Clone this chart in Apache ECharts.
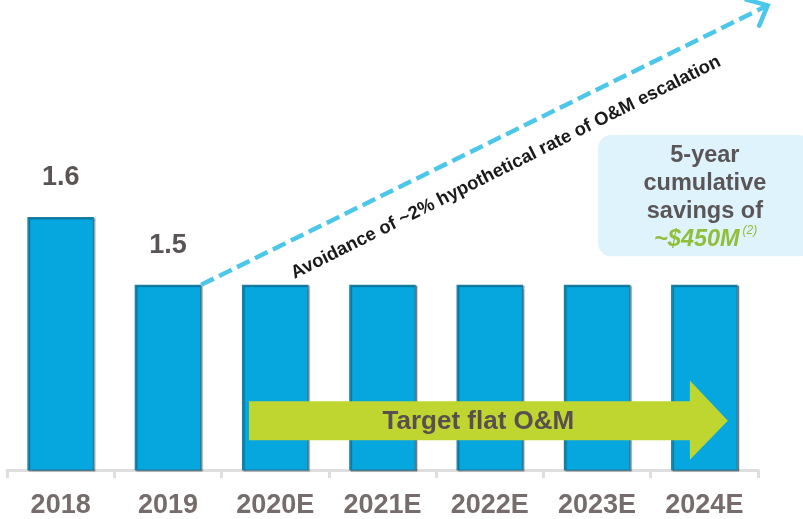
<!DOCTYPE html>
<html>
<head>
<meta charset="utf-8">
<script src="https://cdn.jsdelivr.net/npm/echarts@6/dist/echarts.min.js"></script>
<style>
html,body{margin:0;padding:0;background:#fff;}
#c{width:803px;height:519px;}
</style>
</head>
<body>
<div id="c"></div>
<script>
// ---- data ----
var categories = ['2018', '2019', '2020E', '2021E', '2022E', '2023E', '2024E'];
var values = [1.6, 1.5, 1.5, 1.5, 1.5, 1.5, 1.5];
var labelledBars = ['2018', '2019'];
var trendText = 'Avoidance of ~2% hypothetical rate of O&M escalation';
var flatText = 'Target flat O&M';
var boxLines = ['5-year', 'cumulative', 'savings of'];
var boxAmount = '~$450M';
var boxNote = '(2)';

var FONT = '"Liberation Sans", Arial, Helvetica, sans-serif';
var chart = echarts.init(document.getElementById('c'), null, {renderer: 'canvas'});

var seriesData = values.map(function (v, i) {
  return {
    value: v,
    label: {show: labelledBars.indexOf(categories[i]) >= 0}
  };
});

var option = {
  animation: false,
  backgroundColor: '#ffffff',
  grid: {left: 7, right: 45, top: 2, bottom: 48, containLabel: false},
  xAxis: {
    type: 'category',
    data: categories,
    axisLine: {show: true, lineStyle: {color: '#dedede', width: 3}},
    axisTick: {show: true, length: 8, lineStyle: {color: '#dedede', width: 3}},
    axisLabel: {fontFamily: FONT, fontSize: 27, fontWeight: 'bold', color: '#766c6c', margin: 22}
  },
  yAxis: {
    type: 'value',
    min: 1.227,
    max: 1.917,
    show: false,
    splitLine: {show: false}
  },
  series: [{
    type: 'bar',
    data: seriesData,
    barWidth: '62%',
    itemStyle: {
      color: '#06a6de',
      borderColor: '#1f7fa2',
      borderWidth: 1.2,
      shadowColor: 'rgba(0,0,0,0.35)',
      shadowOffsetX: 1.5,
      shadowOffsetY: 1,
      shadowBlur: 1
    },
    label: {
      position: 'top',
      distance: 26,
      fontFamily: FONT,
      fontSize: 27,
      fontWeight: 'bold',
      color: '#5a5455'
    }
  }]
};
chart.setOption(option);

// helpers to place annotations in data space
function P(cat, val) {
  var p0 = chart.convertToPixel({seriesIndex: 0}, [0, val]);
  var p1 = chart.convertToPixel({seriesIndex: 0}, [1, val]);
  var band = p1[0] - p0[0];
  return [p0[0] + cat * band, p0[1]];
}
var band = P(1, 1.5)[0] - P(0, 1.5)[0];
var halfBar = band * 0.62 / 2;

// dashed trend arrow: from top-right corner of 2019 bar
var start = P(1, values[1]); start[0] += halfBar;
var tip = P(6.59, 1.912);
var ang = Math.atan2(tip[1] - start[1], tip[0] - start[0]);
var armLen = 22, armAng = 0.72;
var armA = [tip[0] - armLen * Math.cos(ang - armAng), tip[1] - armLen * Math.sin(ang - armAng)];
var armB = [tip[0] - armLen * Math.cos(ang + armAng), tip[1] - armLen * Math.sin(ang + armAng)];

// green flat arrow
var aL = P(2, 0)[0] - halfBar + 7;
var headStart = P(6, 0)[0] - 14.5;
var aTip = P(6, 0)[0] + 23.5;
var bodyTop = P(0, 1.3285)[1], bodyBot = P(0, 1.271)[1];
var headTop = P(0, 1.359)[1], headBot = P(0, 1.242)[1];
var midY = (bodyTop + bodyBot) / 2;

// info box
var bx0 = P(5.01, 0)[0], bx1 = P(7.0, 0)[0];
var by0 = P(0, 1.721)[1], by1 = P(0, 1.542)[1];
var boxCx = P(6.005, 0)[0];

var textPos = P(4.15, 1.673);

var graphics = [
  {
    type: 'polygon', z: 10,
    shape: {points: [[aL, bodyTop], [headStart, bodyTop], [headStart, headTop], [aTip, midY],
                     [headStart, headBot], [headStart, bodyBot], [aL, bodyBot]]},
    style: {fill: '#bed62f'}
  },
  {
    type: 'text', z: 11,
    x: (aL + headStart) / 2 + 9, y: midY + 1,
    style: {text: flatText, font: 'bold 26px ' + FONT, fill: '#5a4f50', textAlign: 'center', textVerticalAlign: 'middle'}
  },
  {
    type: 'line', z: 10,
    shape: {x1: start[0], y1: start[1], x2: tip[0] - 3 * Math.cos(ang), y2: tip[1] - 3 * Math.sin(ang)},
    style: {stroke: '#4cc7ea', lineWidth: 4.5, lineDash: [14, 6]}
  },
  {
    type: 'polyline', z: 10,
    shape: {points: [armA, tip, armB]},
    style: {stroke: '#4cc7ea', lineWidth: 4.5, lineCap: 'round', lineJoin: 'miter', fill: null}
  },
  {
    type: 'text', z: 11,
    x: textPos[0], y: textPos[1],
    rotation: 26.6 * Math.PI / 180,
    style: {text: trendText, font: 'bold 18.5px ' + FONT, fill: '#1a1a1a', textAlign: 'center', textVerticalAlign: 'middle'}
  },
  {
    type: 'rect', z: 5,
    shape: {x: bx0, y: by0, width: bx1 - bx0, height: by1 - by0, r: 13},
    style: {fill: '#dff3fc'}
  }
];
var lineYs = [156, 184, 212];
boxLines.forEach(function (t, i) {
  graphics.push({
    type: 'text', z: 11,
    x: boxCx, y: by0 + (lineYs[i] - 135),
    style: {text: t, font: 'bold 23.5px ' + FONT, fill: '#5a5657', textAlign: 'center', textVerticalAlign: 'middle'}
  });
});
graphics.push({
  type: 'text', z: 11,
  x: boxCx - 8, y: by0 + (240 - 135),
  style: {text: boxAmount, font: 'italic bold 23.5px ' + FONT, fill: '#8fbf3b', textAlign: 'center', textVerticalAlign: 'middle'}
});
graphics.push({
  type: 'text', z: 11,
  x: boxCx + 45, y: by0 + (231 - 135),
  style: {text: boxNote, font: 'italic 12px ' + FONT, fill: '#8fbf3b', textAlign: 'center', textVerticalAlign: 'middle'}
});

chart.setOption({graphic: graphics});
</script>
</body>
</html>
